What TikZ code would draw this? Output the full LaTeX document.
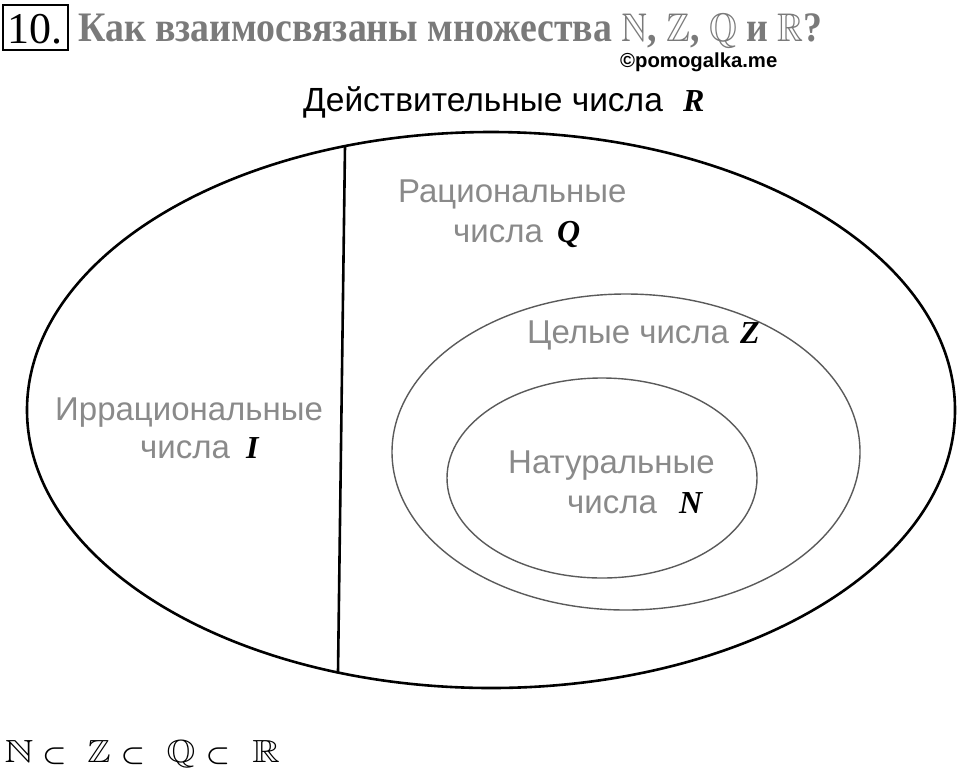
\documentclass[tikz,border=0pt]{standalone}
\usepackage{fontspec}
\usepackage{amssymb}
\setmainfont{Liberation Serif}
\newfontfamily\arial{Liberation Sans}
\definecolor{titlegray}{HTML}{7A7A7A}
\definecolor{lblgray}{HTML}{8A8A8A}
\definecolor{linegray}{HTML}{5A5A5A}
\newcommand\myBB[3]{\scalebox{#1}[#2]{\fontsize{10}{12}\selectfont$\mathbb{#3}$}}
\newcommand\mySub{\scalebox{2.7}[2.5]{\fontsize{10}{12}\selectfont$\boldsymbol{\subset}$}}
\usepackage{amsmath}
\tikzset{
  lbl/.style={anchor=base west, inner sep=0pt, font=\arial\fontsize{33}{38}\selectfont, text=lblgray},
  setletter/.style={anchor=base west, inner sep=0pt, font=\bfseries\itshape\fontsize{32}{36}\selectfont, text=black},
  inner/.style={draw=linegray, line width=1.4pt},
  bb/.style={anchor=base, inner sep=0pt},
}
\begin{document}
\begin{tikzpicture}[x=1pt,y=-1pt]
\useasboundingbox (0,0) rectangle (960,780);
% title
\node[draw, line width=1.2pt, minimum width=65pt, minimum height=45pt, inner sep=0pt] (box) at (35.5,27.5) {};
\node[anchor=base, inner sep=0pt, font=\fontsize{44}{46}\selectfont] (num) at (35,43) {10.};
\node[anchor=base west, inner sep=0pt, text=titlegray, font=\bfseries\fontsize{42}{46}\selectfont] (title) at (78,41)
  {\scalebox{0.9}[1]{Как взаимосвязаны множества \myBB{4.0}{4.0}{N}, \myBB{4.0}{4.0}{Z}, \myBB{4.0}{4.0}{Q} и \myBB{4.0}{4.0}{R}?}};
\node[anchor=base west, inner sep=0pt, font=\arial\bfseries\fontsize{20.3}{23}\selectfont] (wm) at (620,67) {©pomogalka.me};
% heading
\node[anchor=base west, inner sep=0pt, font=\arial\fontsize{33.5}{38}\selectfont] (head) at (303,111) {Действительные числа};
\node[setletter] (R) at (683,111) {R};
% ellipses
\draw[line width=2.6pt] (491,410) ellipse [x radius=464, y radius=278];
\coordinate (vtop) at (345,146);
\coordinate (vbot) at (338,672);
\draw[line width=2.6pt] (vtop) -- (vbot);
\draw[inner] (626,452) ellipse [x radius=234, y radius=158];
\draw[inner] (602,478) ellipse [x radius=155, y radius=100];
% labels
\node[lbl] (q1) at (398,202) {Рациональные};
\node[lbl] (q2) at (453,242) {числа};
\node[setletter] (Q) at (557,242) {Q};
\node[lbl] (z1) at (527,343) {Целые числа};
\node[setletter] (Z) at (740,343) {Z};
\node[lbl] (n1) at (508,473) {Натуральные};
\node[lbl] (n2) at (567,513) {числа};
\node[setletter] (N) at (679,513) {N};
\node[lbl] (i1) at (55,420) {Иррациональные};
\node[lbl] (i2) at (140,458) {числа};
\node[setletter] (I) at (246,458) {I};
% formula
\node[bb] (fN) at (19,762) {\myBB{4.0}{3.2}{N}};
\node[bb] (s1) at (54.5,762) {\mySub};
\node[bb] (fZ) at (99,762) {\myBB{3.5}{3.2}{Z}};
\node[bb] (s2) at (133,762) {\mySub};
\node[bb] (fQ) at (181,762) {\myBB{3.7}{3.2}{Q}};
\node[bb] (s3) at (218,762) {\mySub};
\node[bb] (fR) at (266,762) {\myBB{3.8}{3.2}{R}};
\end{tikzpicture}
\end{document}
